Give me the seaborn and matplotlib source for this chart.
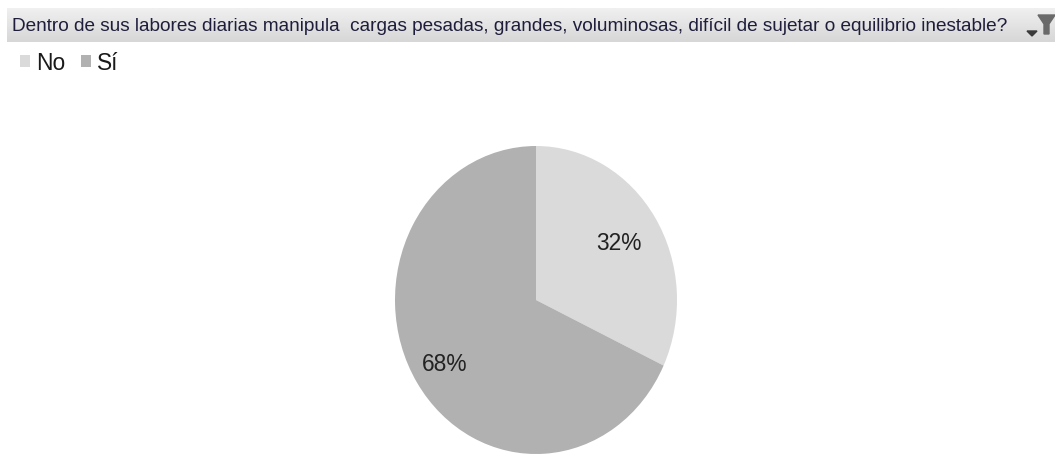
import matplotlib
matplotlib.use("Agg")
import matplotlib.pyplot as plt
from matplotlib import font_manager
from matplotlib.patches import Polygon
import numpy as np
import seaborn as sns

# data
categories = ["No", "Sí"]
values = [32, 68]
colors = ["#dadada", "#b1b1b1"]
title = ("Dentro de sus labores diarias manipula  cargas pesadas, grandes, voluminosas, "
         "difícil de sujetar o equilibrio inestable?")

sns.set_theme(style="white")
names = {f.name for f in font_manager.fontManager.ttflist}
narrow = "Liberation Sans Narrow" in names
plt.rcParams["font.family"] = ["Liberation Sans Narrow" if narrow else "Liberation Sans", "DejaVu Sans"]
k = 1.0 if narrow else 0.82  # shrink size when narrow face is missing

W, H = 1055, 456
fig = plt.figure(figsize=(W / 100, H / 100), dpi=100)
fig.patch.set_facecolor("white")

# header bar (pixel coordinates)
hx0, hx1, hy0, hy1 = 7, 1055, 9, 43
hax = fig.add_axes([hx0 / W, 1 - hy1 / H, (hx1 - hx0) / W, (hy1 - hy0) / H])
grad = np.linspace(0.94, 0.84, 50).reshape(-1, 1)
hax.imshow(grad, cmap="gray", vmin=0, vmax=1, aspect="auto",
           extent=(hx0, hx1, hy1, hy0))
hax.set_xlim(hx0, hx1)
hax.set_ylim(hy1, hy0)
hax.axis("off")
hax.text(12, 26.5, title, fontsize=16.7 * k, color="#1e1e3c", va="center", ha="left")
# filter icon
hax.add_patch(Polygon([[1027, 32], [1037, 32], [1032, 37]], closed=True, color="#3a3a3a"))
hax.add_patch(Polygon([[1038, 16], [1055, 16], [1049, 25], [1049, 35], [1044, 35], [1044, 25]],
                      closed=True, color="#6a6a6a"))

# pie
pcx0, pcx1, pcy0, pcy1 = 395, 677, 147, 455
ax = fig.add_axes([pcx0 / W, 1 - pcy1 / H, (pcx1 - pcx0) / W, (pcy1 - pcy0) / H])
wedges, texts, autotexts = ax.pie(values, colors=colors, startangle=90, counterclock=False,
                                  autopct="%1.0f%%", pctdistance=0.7,
                                  wedgeprops=dict(linewidth=0),
                                  textprops=dict(fontsize=20 * k, color="#222222"))
ax.set_aspect("auto")
ax.set_xlim(-1, 1)
ax.set_ylim(-1, 1)
ax.axis("off")

# Excel "best fit" label radii
label_r = [0.70, 0.77]
for w, t, r in zip(wedges, autotexts, label_r):
    mid = np.deg2rad((w.theta1 + w.theta2) / 2)
    t.set_position((r * np.cos(mid), r * np.sin(mid)))

# legend
leg = fig.legend(wedges, categories, loc="upper left", bbox_to_anchor=(20 / W, 1 - 52 / H),
                 ncol=2, frameon=False, fontsize=20 * k, handlelength=0.45, handleheight=0.45,
                 handletextpad=0.25, columnspacing=0.7, borderpad=0, borderaxespad=0)
for t in leg.get_texts():
    t.set_color("#1a1a1a")

fig.savefig("out.png", dpi=100)
